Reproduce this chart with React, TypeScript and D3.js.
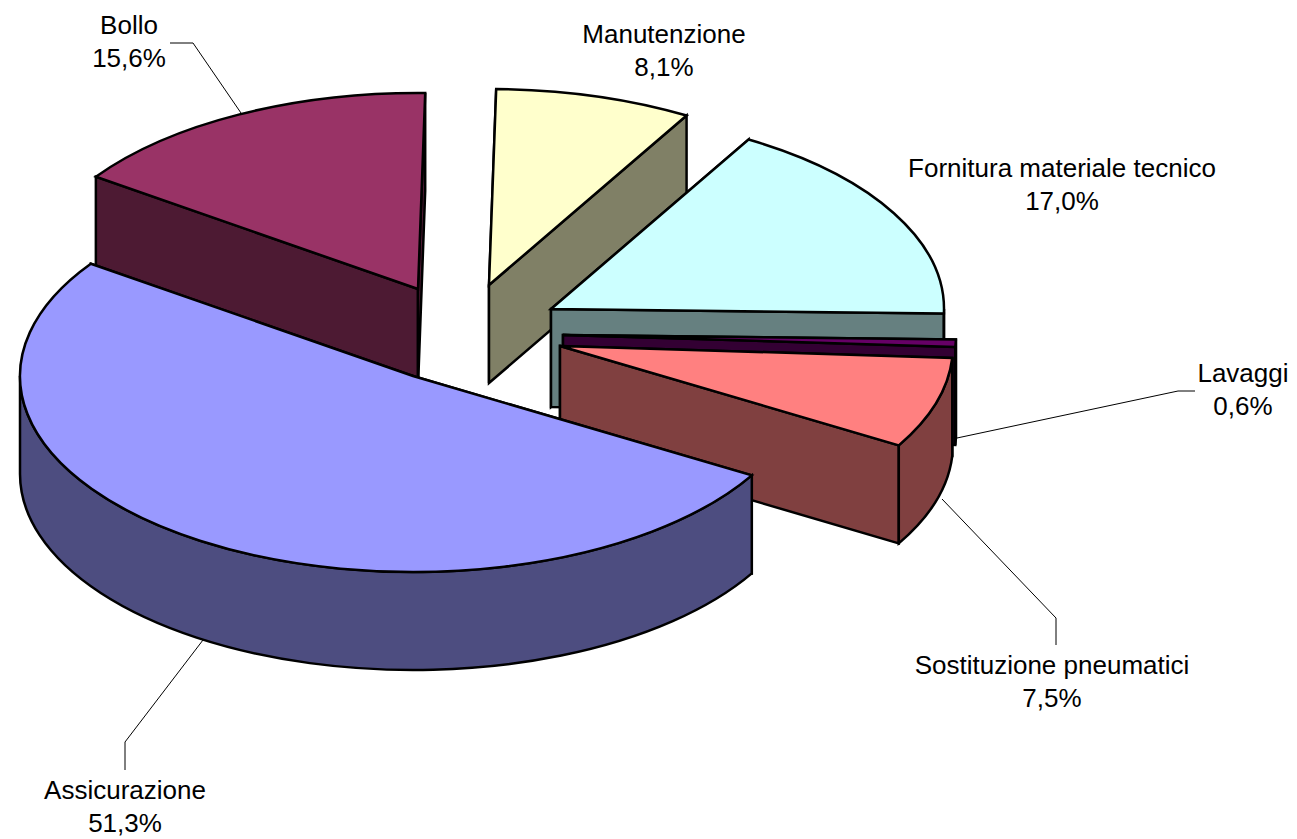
import React from "react";
import * as d3 from "d3";

const categories = ["Manutenzione", "Fornitura materiale tecnico", "Lavaggi", "Sostituzione pneumatici", "Assicurazione", "Bollo"];
const values = [8.1, 17.0, 0.6, 7.5, 51.3, 15.6];
const valueLabels = ["8,1%", "17,0%", "0,6%", "7,5%", "51,3%", "15,6%"];
const topColors = ["#FFFFCC", "#CCFFFF", "#660066", "#FF8080", "#9999FF", "#993366"];
const wallColors = ["#808066", "#668080", "#330033", "#804040", "#4D4D80", "#4D1A33"];

// layout (exploded apex of each slice, label centres, leader lines)
const apexes: [number, number][] = [[489, 285], [551, 309], [563, 335], [560, 346], [413, 376], [418, 289]];
const labelCenters: [number, number][] = [[664, 34], [1062, 168], [1243, 373], [1052, 665], [125, 790], [129, 25]];
const leaders: ([number, number][] | null)[] = [
  null,
  null,
  [[957, 438], [1178, 391], [1195, 391]],
  [[942, 499], [1056, 618], [1056, 645]],
  [[203, 640], [125, 742], [125, 770]],
  [[241, 113], [193, 43], [170, 43]],
];
// painter's order, back to front
const drawOrder = [5, 0, 1, 2, 3, 4];

const RX = 393;
const RY = 196;
const DEPTH = 98;
const START = (1.05 * Math.PI) / 180;
const FONT_SIZE = 26;
const LINE_GAP = 33;

const pie = d3.pie<number>().sort(null).startAngle(START).endAngle(START + 2 * Math.PI);
const arcs = pie(values);
const sectorGen = d3.arc<d3.PieArcDatum<number>>().innerRadius(0).outerRadius(RX);
const leaderLine = d3.line();

export default function App() {
  return (
    <svg
      width={1297}
      height={839}
      viewBox="0 0 1297 839"
      style={{ position: "absolute", left: 0, top: 0, display: "block", background: "#fff" }}
      fontFamily="'Liberation Sans', Arial, sans-serif"
      fontSize={FONT_SIZE}
    >
      {drawOrder.map((i) => {
        const [ax, ay] = apexes[i];
        const a = arcs[i];
        const t1 = a.startAngle - Math.PI / 2;
        const t2 = a.endAngle - Math.PI / 2;
        const px = (t: number) => ax + RX * Math.cos(t);
        const py = (t: number) => ay + RY * Math.sin(t);
        const radial = (t: number) =>
          `M${ax},${ay}L${px(t)},${py(t)}L${px(t)},${py(t) + DEPTH}L${ax},${ay + DEPTH}Z`;
        const v1 = Math.max(t1, 0);
        const v2 = Math.min(t2, Math.PI);
        const outer =
          v2 > v1
            ? `M${px(v1)},${py(v1)}A${RX},${RY} 0 0 1 ${px(v2)},${py(v2)}L${px(v2)},${py(v2) + DEPTH}A${RX},${RY} 0 0 0 ${px(v1)},${py(v1) + DEPTH}Z`
            : null;
        return (
          <g key={categories[i]} stroke="#000" strokeWidth={2.5} strokeLinejoin="miter">
            <path d={radial(t1)} fill={wallColors[i]} />
            <path d={radial(t2)} fill={wallColors[i]} />
            {outer && <path d={outer} fill={wallColors[i]} />}
            <path
              d={sectorGen(a) as string}
              fill={topColors[i]}
              transform={`translate(${ax},${ay}) scale(1,${RY / RX})`}
              vectorEffect="non-scaling-stroke"
            />
          </g>
        );
      })}
      {leaders.map((pts, i) =>
        pts ? <path key={i} d={leaderLine(pts) as string} fill="none" stroke="#000" strokeWidth={1} /> : null
      )}
      {categories.map((c, i) => (
        <text key={c} textAnchor="middle" fill="#000" x={labelCenters[i][0]} y={labelCenters[i][1] + 8.5}>
          <tspan x={labelCenters[i][0]}>{c}</tspan>
          <tspan x={labelCenters[i][0]} dy={LINE_GAP}>{valueLabels[i]}</tspan>
        </text>
      ))}
    </svg>
  );
}
